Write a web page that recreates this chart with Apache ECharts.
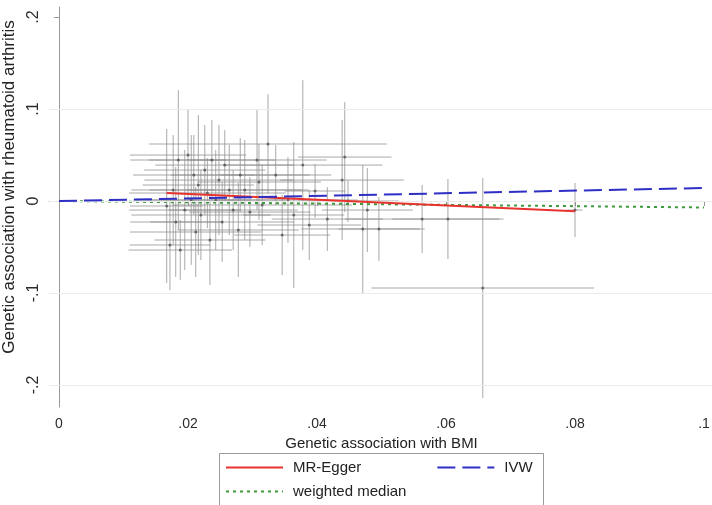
<!DOCTYPE html>
<html>
<head>
<meta charset="utf-8">
<script src="https://cdn.jsdelivr.net/npm/echarts@6/dist/echarts.min.js"></script>
<style>
  html, body { margin: 0; padding: 0; background: #ffffff; }
  #chart { width: 712px; height: 505px; }
</style>
</head>
<body>
<div id="chart"></div>
<script>
// Per-SNP estimates: association with BMI (bx) and with rheumatoid arthritis (by), plus standard errors
const snpBx = [0.0167, 0.0172, 0.0177, 0.0181, 0.0185, 0.0188, 0.0195, 0.0200, 0.0205, 0.0209,
               0.0212, 0.0216, 0.0220, 0.0226, 0.0230, 0.0234, 0.0237, 0.0243, 0.0248, 0.0253,
               0.0257, 0.0264, 0.0270, 0.0278, 0.0281, 0.0288, 0.0296, 0.0307, 0.0310, 0.0315,
               0.0324, 0.0336, 0.0346, 0.0355, 0.0364, 0.0378, 0.0388, 0.0397, 0.0416, 0.0439,
               0.0443, 0.0448, 0.0471, 0.0478, 0.0496, 0.0563, 0.0603, 0.0657, 0.0800];
const snpBxSe = [0.0029, 0.0032, 0.0033, 0.0036, 0.0038, 0.0041, 0.0044, 0.0046, 0.0046, 0.0048,
                 0.0052, 0.0044, 0.0055, 0.0048, 0.0062, 0.0044, 0.0050, 0.0055, 0.0059, 0.0057,
                 0.0055, 0.0063, 0.0051, 0.0048, 0.0055, 0.0046, 0.0048, 0.0055, 0.0049, 0.0071,
                 0.0094, 0.0044, 0.0038, 0.0055, 0.0040, 0.0063, 0.0041, 0.0024, 0.0044, 0.0049,
                 0.0037, 0.0040, 0.0049, 0.0036, 0.0032, 0.0061, 0.0044, 0.0088, 0.0006];
const snpBy = [-0.0054, -0.0478, 0.0120, -0.0228, 0.0446, -0.0533, -0.0098, 0.0500, 0.0011, 0.0283,
               -0.0337, 0.0174, -0.0152, 0.0337, 0.0087, -0.0424, 0.0446, 0.0011, 0.0228, -0.0228,
               0.0391, 0.0120, -0.0098, -0.0315, 0.0283, 0.0120, -0.0120, 0.0446, 0.0207, -0.0043,
               0.0620, 0.0283, -0.0370, 0.0011, -0.0152, 0.0391, -0.0261, 0.0109, -0.0196, 0.0228,
               0.0478, 0.0000, -0.0304, -0.0098, -0.0304, -0.0196, -0.0196, -0.0946, -0.0098];
const snpBySe = [0.0427, 0.0250, 0.0305, 0.0305, 0.0388, 0.0166, 0.0333, 0.0250, 0.0360, 0.0222,
                 0.0250, 0.0388, 0.0250, 0.0250, 0.0194, 0.0250, 0.0222, 0.0277, 0.0305, 0.0222,
                 0.0194, 0.0250, 0.0222, 0.0261, 0.0205, 0.0277, 0.0194, 0.0277, 0.0211, 0.0222,
                 0.0277, 0.0166, 0.0222, 0.0238, 0.0405, 0.0471, 0.0194, 0.0150, 0.0177, 0.0333,
                 0.0305, 0.0116, 0.0355, 0.0233, 0.0177, 0.0189, 0.0222, 0.0610, 0.0150];

// Fitted lines: [bx, by] end points
const eggerLine = [[0.0167, 0.0088], [0.0800, -0.0110]];
const ivwLine = [[0, 0], [0.1, 0.0141]];
const medianLine = [[0, 0], [0.1, -0.0070]];

// Axis ticks
const xTicks = [0, 0.02, 0.04, 0.06, 0.08, 0.1];
const yTicks = [-0.2, -0.1, 0, 0.1, 0.2];
const yGridLines = [0.1, 0, -0.1, -0.2];

const FONT = '"Liberation Sans", Arial, Helvetica, sans-serif';
const stataNum = v => (v === 0 ? '0' : String(+v.toFixed(4)).replace(/^(-?)0\./, '$1.'));

const errorData = snpBx.map((b, i) => [b, snpBy[i], snpBxSe[i], snpBySe[i]]);
const pointData = snpBx.map((b, i) => [b, snpBy[i]]);

const chart = echarts.init(document.getElementById('chart'), null, { renderer: 'canvas' });

const legendCommon = {
  itemWidth: 57, itemHeight: 14, padding: 0,
  itemStyle: { opacity: 0 },
  textStyle: { fontFamily: FONT, fontSize: 15, color: '#222', padding: [0, 0, 0, 5] },
  selectedMode: false
};

chart.setOption({
  animation: false,
  backgroundColor: '#ffffff',
  grid: { left: 49, top: 7, width: 665, height: 400, containLabel: false, outerBoundsMode: 'none' },
  xAxis: {
    type: 'value',
    min: -0.00155,
    max: 0.10155,
    name: 'Genetic association with BMI',
    nameLocation: 'middle',
    nameGap: 26,
    nameTextStyle: { fontFamily: FONT, fontSize: 15, color: '#222' },
    axisLine: { show: true, lineStyle: { color: '#999', width: 1 } },
    axisTick: { show: true, customValues: xTicks, length: 5, lineStyle: { color: '#999' } },
    axisLabel: {
      customValues: xTicks, margin: 10, fontFamily: FONT, fontSize: 14, color: '#2b2b2b',
      formatter: v => stataNum(v)
    },
    splitLine: { show: false }
  },
  yAxis: {
    type: 'value',
    min: -0.224,
    max: 0.211,
    name: 'Genetic association with rheumatoid arthritis',
    nameLocation: 'middle',
    nameGap: 24,
    nameTextStyle: { fontFamily: FONT, fontSize: 17, color: '#222', padding: [0, 0, 0, 40] },
    axisLine: { show: true, lineStyle: { color: '#999', width: 1 } },
    axisTick: { show: true, customValues: yTicks, length: 5, lineStyle: { color: '#999' } },
    axisLabel: {
      customValues: yTicks, rotate: 90, margin: 7, fontFamily: FONT, fontSize: 16, color: '#2b2b2b',
      formatter: v => stataNum(v)
    },
    splitLine: { show: false }
  },
  legend: [
    Object.assign({ data: ['MR-Egger', 'IVW'], left: 225, top: 460, itemGap: 75 }, legendCommon),
    Object.assign({ data: ['weighted median'], left: 225, top: 484 }, legendCommon)
  ],
  graphic: [
    {
      type: 'rect', left: 219, top: 453, z: 0,
      shape: { width: 324, height: 60 },
      style: { fill: '#ffffff', stroke: '#9a9a9a', lineWidth: 1 }
    }
  ],
  series: [
    {
      name: 'SNP confidence intervals',
      type: 'custom',
      data: errorData,
      encode: { x: 0, y: 1 },
      clip: true,
      z: 2,
      renderItem: (params, api) => {
        const bx = api.value(0), by = api.value(1), sx = api.value(2), sy = api.value(3);
        const h0 = api.coord([bx - 1.96 * sx, by]);
        const h1 = api.coord([bx + 1.96 * sx, by]);
        const v0 = api.coord([bx, by - 1.96 * sy]);
        const v1 = api.coord([bx, by + 1.96 * sy]);
        const st = { stroke: '#8c8c8c', lineWidth: 1, opacity: 0.75 };
        return {
          type: 'group',
          children: [
            { type: 'line', shape: { x1: h0[0], y1: h0[1], x2: h1[0], y2: h1[1] }, style: st },
            { type: 'line', shape: { x1: v0[0], y1: v0[1], x2: v1[0], y2: v1[1] }, style: st }
          ]
        };
      },
      markLine: {
        silent: true,
        symbol: 'none',
        label: { show: false },
        lineStyle: { color: '#ebebeb', type: 'solid', width: 1 },
        data: yGridLines.map(v => ({ yAxis: v }))
      }
    },
    {
      name: 'SNPs',
      type: 'scatter',
      data: pointData,
      symbol: 'circle',
      symbolSize: 3,
      itemStyle: { color: '#555555' },
      z: 3
    },
    {
      name: 'MR-Egger',
      type: 'line',
      data: eggerLine,
      symbol: 'none',
      color: '#e8322e',
      lineStyle: { color: '#e8322e', width: 2, type: 'solid' },
      z: 5
    },
    {
      name: 'IVW',
      type: 'line',
      data: ivwLine,
      symbol: 'none',
      color: '#2f2fc6',
      lineStyle: { color: '#2f2fc6', width: 2, type: [18, 7] },
      z: 5
    },
    {
      name: 'weighted median',
      type: 'line',
      data: medianLine,
      symbol: 'none',
      color: '#3c9a3c',
      lineStyle: { color: '#3c9a3c', width: 2, type: [3, 4] },
      z: 4
    }
  ]
});
</script>
</body>
</html>
